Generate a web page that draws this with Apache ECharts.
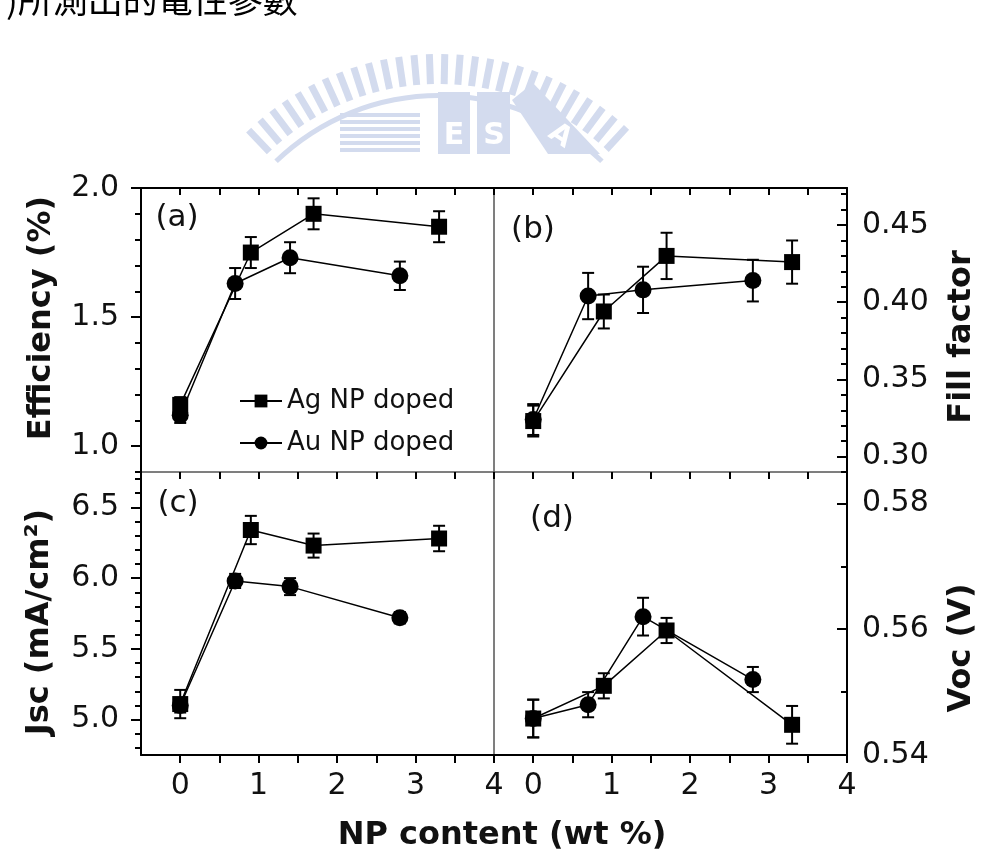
<!DOCTYPE html>
<html>
<head>
<meta charset="utf-8">
<script src="https://cdn.jsdelivr.net/npm/echarts@6/dist/echarts.min.js"></script>
<style>
  html, body { margin: 0; padding: 0; background: #fff; }
  #chart { width: 995px; height: 867px; }
</style>
</head>
<body>
<div id="chart"></div>
<script>
// NP content (wt %) of each sample set
const agX = [0, 0.9, 1.7, 3.3];
const auX = [0, 0.7, 1.4, 2.8];

// (a) efficiency (%)
const effAg = [1.16, 1.75, 1.90, 1.85];
const effAgErr = [0.03, 0.06, 0.06, 0.06];
const effAu = [1.12, 1.63, 1.73, 1.66];
const effAuErr = [0.03, 0.06, 0.06, 0.055];

// (b) fill factor
const ffAg = [0.323, 0.394, 0.430, 0.426];
const ffAgErr = [0.01, 0.011, 0.015, 0.014];
const ffAu = [0.324, 0.404, 0.408, 0.414];
const ffAuErr = [0.01, 0.015, 0.015, 0.0135];

// (c) Jsc (mA/cm2)
const jscAg = [5.11, 6.34, 6.23, 6.28];
const jscAgErr = [0.1, 0.1, 0.085, 0.09];
const jscAu = [5.10, 5.98, 5.94, 5.72];
const jscAuErr = [0.05, 0.05, 0.06, 0.04];

// (d) Voc (V)
const vocAg = [0.5458, 0.551, 0.5598, 0.5448];
const vocAgErr = [0.003, 0.002, 0.002, 0.003];
const vocAu = [0.5458, 0.548, 0.562, 0.552];
const vocAuErr = [0.003, 0.002, 0.003, 0.002];

// tick values
const xLabels = [0, 1, 2, 3, 4];
const xTicks = [0, 0.5, 1, 1.5, 2, 2.5, 3, 3.5, 4];
const effMajor = [1.0, 1.5, 2.0];
const effMinor = [0.9, 1.1, 1.2, 1.3, 1.4, 1.6, 1.7, 1.8, 1.9];
const ffMajor = [0.30, 0.35, 0.40, 0.45];
const ffMinor = [0.29, 0.31, 0.32, 0.33, 0.34, 0.36, 0.37, 0.38, 0.39, 0.41, 0.42, 0.43, 0.44, 0.46, 0.47];
const jscMajor = [5.0, 5.5, 6.0, 6.5];
const jscMinor = [4.8, 4.9, 5.1, 5.2, 5.3, 5.4, 5.6, 5.7, 5.8, 5.9, 6.1, 6.2, 6.3, 6.4, 6.6, 6.7];
const vocMajor = [0.54, 0.56, 0.58];
const vocMinor = [0.55, 0.57];

const AG = 'Ag NP doped';
const AU = 'Au NP doped';
const ink = '#111';
const tickFont = 'DejaVu Sans';

const chart = echarts.init(document.getElementById('chart'));

const grids = [
  { left: 141, top: 188, width: 353, height: 284 },
  { left: 494, top: 188, width: 353, height: 284 },
  { left: 141, top: 472, width: 353, height: 283 },
  { left: 494, top: 472, width: 353, height: 283 }
];

const xAxis = [];
const yAxis = [];

grids.forEach((g, i) => {
  const lower = i >= 2;
  // bottom axis
  xAxis.push({
    gridIndex: i, type: 'value', min: -0.5, max: 4, position: 'bottom',
    axisLine: { show: lower, onZero: false, lineStyle: { color: '#000', width: 2 } },
    axisTick: { show: lower, inside: false, length: 8, customValues: xTicks, lineStyle: { color: '#000', width: 2 } },
    axisLabel: {
      show: lower, customValues: xLabels, formatter: v => String(Math.round(v)),
      fontFamily: tickFont, fontSize: 30, color: ink, margin: 16
    },
    splitLine: { show: false }
  });
  // top axis (ticks only)
  xAxis.push({
    gridIndex: i, type: 'value', min: -0.5, max: 4, position: 'top',
    axisLine: { show: !lower, onZero: false, lineStyle: { color: '#000', width: 2 } },
    axisTick: { show: true, inside: true, length: 7, customValues: xTicks, lineStyle: { color: '#000', width: 2 } },
    axisLabel: { show: false },
    splitLine: { show: false }
  });
});

function addY(i, min, max, major, minor, digits, side) {
  const right = side === 'right';
  yAxis.push({
    gridIndex: i, type: 'value', min: min, max: max, position: side,
    axisLine: { show: true, onZero: false, lineStyle: { color: '#000', width: 2 } },
    axisTick: { show: true, inside: right, length: 10, customValues: major, lineStyle: { color: '#000', width: 2 } },
    axisLabel: {
      customValues: major, formatter: v => v.toFixed(digits),
      fontFamily: tickFont, fontSize: 30, color: ink, margin: right ? 15 : 22
    },
    splitLine: { show: false }
  });
  yAxis.push({
    gridIndex: i, type: 'value', min: min, max: max, position: side,
    axisLine: { show: false, onZero: false },
    axisTick: { show: true, inside: right, length: 6, customValues: minor, lineStyle: { color: '#000', width: 2 } },
    axisLabel: { show: false },
    splitLine: { show: false }
  });
}

addY(0, 0.9, 2.0, effMajor, effMinor, 1, 'left');
addY(1, 0.29, 0.474, ffMajor, ffMinor, 2, 'right');
addY(2, 4.75, 6.75, jscMajor, jscMinor, 1, 'left');
addY(3, 0.54, 0.585, vocMajor, vocMinor, 2, 'right');

function pairs(xs, ys) {
  return xs.map((x, k) => [x, ys[k]]);
}

function lineSeries(name, i, xs, ys, symbol) {
  return {
    name: name, type: 'line', xAxisIndex: i * 2, yAxisIndex: i * 2,
    data: pairs(xs, ys),
    symbol: symbol, symbolSize: symbol === 'rect' ? 16 : 17,
    itemStyle: { color: '#000' },
    lineStyle: { color: '#000', width: 1.5 },
    z: 3
  };
}

function errSeries(i, xs, ys, es) {
  return {
    type: 'custom', xAxisIndex: i * 2, yAxisIndex: i * 2, silent: true, z: 2,
    data: xs.map((x, k) => [x, ys[k] - es[k], ys[k] + es[k]]),
    encode: { x: 0, y: [1, 2] },
    renderItem: (params, api) => {
      const lo = api.coord([api.value(0), api.value(1)]);
      const hi = api.coord([api.value(0), api.value(2)]);
      const st = { stroke: '#000', lineWidth: 2 };
      const w = 6;
      return {
        type: 'group',
        children: [
          { type: 'line', shape: { x1: lo[0], y1: lo[1], x2: hi[0], y2: hi[1] }, style: st },
          { type: 'line', shape: { x1: lo[0] - w, y1: lo[1], x2: lo[0] + w, y2: lo[1] }, style: st },
          { type: 'line', shape: { x1: hi[0] - w, y1: hi[1], x2: hi[0] + w, y2: hi[1] }, style: st }
        ]
      };
    }
  };
}

const series = [
  errSeries(0, agX, effAg, effAgErr), errSeries(0, auX, effAu, effAuErr),
  lineSeries(AG, 0, agX, effAg, 'rect'), lineSeries(AU, 0, auX, effAu, 'circle'),
  errSeries(1, agX, ffAg, ffAgErr), errSeries(1, auX, ffAu, ffAuErr),
  lineSeries(AG, 1, agX, ffAg, 'rect'), lineSeries(AU, 1, auX, ffAu, 'circle'),
  errSeries(2, agX, jscAg, jscAgErr), errSeries(2, auX, jscAu, jscAuErr),
  lineSeries(AG, 2, agX, jscAg, 'rect'), lineSeries(AU, 2, auX, jscAu, 'circle'),
  errSeries(3, agX, vocAg, vocAgErr), errSeries(3, auX, vocAu, vocAuErr),
  lineSeries(AG, 3, agX, vocAg, 'rect'), lineSeries(AU, 3, auX, vocAu, 'circle')
];

// light watermark seal above the figure
const wm = '#d3dbee';
const wmEls = [];
const cx = 439, cy = 330;
for (let a = -140; a <= -40; a += 3.2) {
  const t = a * Math.PI / 180;
  const x1 = cx + 246 * Math.cos(t), y1 = cy + 246 * Math.sin(t);
  const x2 = cx + 276 * Math.cos(t), y2 = cy + 276 * Math.sin(t);
  if (y1 > 154) continue;
  wmEls.push({ type: 'line', shape: { x1, y1, x2, y2 }, style: { stroke: wm, lineWidth: 7 } });
}
wmEls.push({
  type: 'sector',
  shape: { cx, cy, r0: 232, r: 237, startAngle: -134 * Math.PI / 180, endAngle: -46 * Math.PI / 180, clockwise: true },
  style: { fill: wm }
});
for (let k = 0; k < 6; k++) {
  wmEls.push({ type: 'rect', shape: { x: 340, y: 113 + k * 7, width: 80, height: 4 }, style: { fill: wm } });
}
wmEls.push({ type: 'rect', shape: { x: 438, y: 92, width: 32, height: 62 }, style: { fill: wm } });
wmEls.push({ type: 'rect', shape: { x: 477, y: 92, width: 33, height: 62 }, style: { fill: wm } });
wmEls.push({ type: 'polygon', shape: { points: [[512, 100], [533, 83], [600, 154], [548, 154]] }, style: { fill: wm } });
wmEls.push({ type: 'text', x: 454, y: 136, style: { text: 'E', fill: '#fff', font: 'bold 30px "DejaVu Sans"', align: 'center', verticalAlign: 'middle' } });
wmEls.push({ type: 'text', x: 494, y: 136, style: { text: 'S', fill: '#fff', font: 'bold 30px "DejaVu Sans"', align: 'center', verticalAlign: 'middle' } });
wmEls.push({ type: 'text', x: 560, y: 136, rotation: -0.6, style: { text: 'A', fill: '#fff', font: 'bold 28px "DejaVu Sans"', align: 'center', verticalAlign: 'middle' } });

function label(text, x, y, font, rot) {
  return {
    type: 'text', x: x, y: y, rotation: rot || 0, z: 10,
    style: { text: text, fill: ink, font: font, align: 'center', verticalAlign: 'middle' }
  };
}

const titleFont = 'bold 32px "DejaVu Sans"';
const panelFont = '31px "DejaVu Sans"';

chart.setOption({
  animation: false,
  backgroundColor: '#fff',
  grid: grids.map(g => Object.assign({ show: true, borderColor: '#555', borderWidth: 1 }, g)),
  xAxis: xAxis,
  yAxis: yAxis,
  legend: {
    data: [AG, AU], orient: 'vertical', left: 234, top: 383,
    itemWidth: 42, itemHeight: 16, itemGap: 16,
    textStyle: { fontFamily: tickFont, fontSize: 26, color: ink },
    selectedMode: false
  },
  series: series,
  graphic: [
    { type: 'group', silent: true, children: wmEls },
    { type: 'text', x: 6, y: 0, silent: true,
      style: { text: ')所測出的電性參數', fill: '#000', font: '35px "Noto Sans CJK TC"', align: 'left', verticalAlign: 'middle' } },
    label('Efficiency (%)', 42, 318, titleFont, Math.PI / 2),
    label('Jsc (mA/cm²)', 40, 622, titleFont, Math.PI / 2),
    label('Fill factor', 962, 337, titleFont, Math.PI / 2),
    label('Voc (V)', 962, 648, titleFont, Math.PI / 2),
    label('NP content (wt %)', 502, 836, titleFont, 0),
    label('(a)', 177, 218, panelFont, 0),
    label('(b)', 533, 230, panelFont, 0),
    label('(c)', 178, 504, panelFont, 0),
    label('(d)', 552, 519, panelFont, 0)
  ]
});
</script>
</body>
</html>
